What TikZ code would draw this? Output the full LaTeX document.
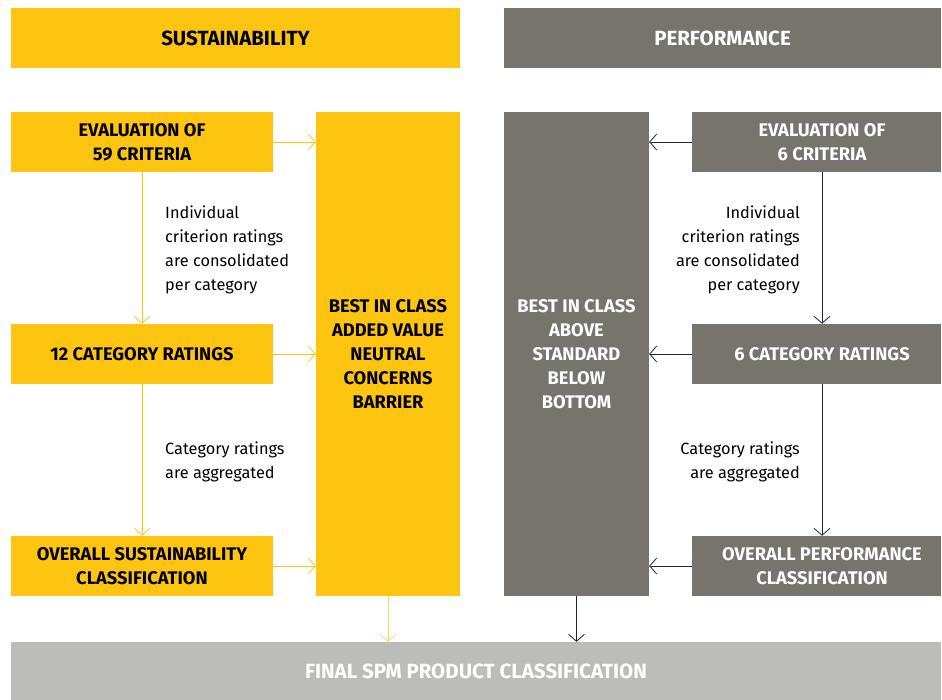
\documentclass[tikz,border=0pt]{standalone}
\usepackage{fontspec}
\setmainfont{Fira Sans}
\usetikzlibrary{arrows.meta, calc}

\definecolor{spmyellow}{HTML}{FDC410}
\definecolor{spmgrey}{HTML}{77746E}
\definecolor{spmlight}{HTML}{BCBCBA}

\tikzset{
	box/.style={minimum width=262pt, minimum height=60pt, inner sep=0pt, align=center,
		font=\fontsize{18.3}{24}\selectfont\bfseries},
	headbox/.style={font=\fontsize{20.5}{24}\selectfont\bfseries},
	ybox/.style={box, fill=spmyellow, text=black},
	gbox/.style={box, fill=spmgrey, text=white},
	note/.style={font=\fontsize{16.3}{24}\selectfont, inner sep=0pt},
	yarrow/.style={spmyellow, line width=0.8pt, -{Straight Barb[length=7pt,width=16pt]}},
	garrow/.style={black!85, line width=0.8pt, -{Straight Barb[length=7pt,width=16pt]}}
}

\begin{document}
\begin{tikzpicture}[x=1pt, y=-1pt]
	\useasboundingbox (0,0) rectangle (942,700);
	
	% headers
	\node [ybox, headbox, minimum width=449pt] (sust) at (235.5,38) {SUSTAINABILITY};
	\node [gbox, headbox, minimum width=437pt] (perf) at (722.5,38) {PERFORMANCE};
	
	% sustainability side
	\node [ybox] (eval59) at (142,142) {EVALUATION OF\\59 CRITERIA};
	\node [ybox] (cat12) at (142,354) {12 CATEGORY RATINGS};
	\node [ybox] (overallS) at (142,566) {OVERALL SUSTAINABILITY\\CLASSIFICATION};
	\node [ybox, minimum width=144pt, minimum height=484pt] (bicS) at (388,354)
		{BEST IN CLASS\\ADDED VALUE\\NEUTRAL\\CONCERNS\\BARRIER};
	
	% performance side
	\node [gbox, minimum width=145pt, minimum height=484pt] (bicP) at (576.5,354)
		{BEST IN CLASS\\ABOVE\\STANDARD\\BELOW\\BOTTOM};
	\node [gbox, minimum width=249pt] (eval6) at (816.5,142) {\hspace*{11pt}EVALUATION OF\\\hspace*{11pt}6 CRITERIA};
	\node [gbox, minimum width=249pt] (cat6) at (816.5,354) {\hspace*{11pt}6 CATEGORY RATINGS};
	\node [gbox, minimum width=249pt] (overallP) at (816.5,566) {\hspace*{11pt}OVERALL PERFORMANCE\\\hspace*{11pt}CLASSIFICATION};
	
	% final
	\node [box, headbox, fill=spmlight, text=white, minimum width=930pt, minimum height=58pt] (final) at (476,671) {FINAL SPM PRODUCT CLASSIFICATION};
	
	% notes
	\node [note, anchor=west, align=left] (noteS1) at (165,249.5)
		{Individual\\criterion ratings\\are consolidated\\per category};
	\node [note, anchor=west, align=left] (noteS2) at (165,462)
		{Category ratings\\are aggregated};
	\node [note, anchor=east, align=right] (noteP1) at (800,249.5)
		{Individual\\criterion ratings\\are consolidated\\per category};
	\node [note, anchor=east, align=right] (noteP2) at (800,462)
		{Category ratings\\are aggregated};
	
	% arrows
	\coordinate (pcol) at (822,0);
	\draw [yarrow] (eval59) -- (eval59 -| bicS.west);
	\draw [yarrow] (cat12) -- (cat12 -| bicS.west);
	\draw [yarrow] (overallS) -- (overallS -| bicS.west);
	\draw [yarrow] (eval59.south) -- (cat12.north);
	\draw [yarrow] (cat12.south) -- (overallS.north);
	\draw [garrow] (eval6.west) -- (eval6 -| bicP.east);
	\draw [garrow] (cat6.west) -- (cat6 -| bicP.east);
	\draw [garrow] (overallP.west) -- (overallP -| bicP.east);
	\draw [garrow] (eval6.south -| pcol) -- (cat6.north -| pcol);
	\draw [garrow] (cat6.south -| pcol) -- (overallP.north -| pcol);
	\draw [yarrow, spmyellow!70] (bicS.south) -- (bicS.south |- final.north);
	\draw [garrow] (bicP.south) -- (bicP.south |- final.north);
\end{tikzpicture}
\end{document}
